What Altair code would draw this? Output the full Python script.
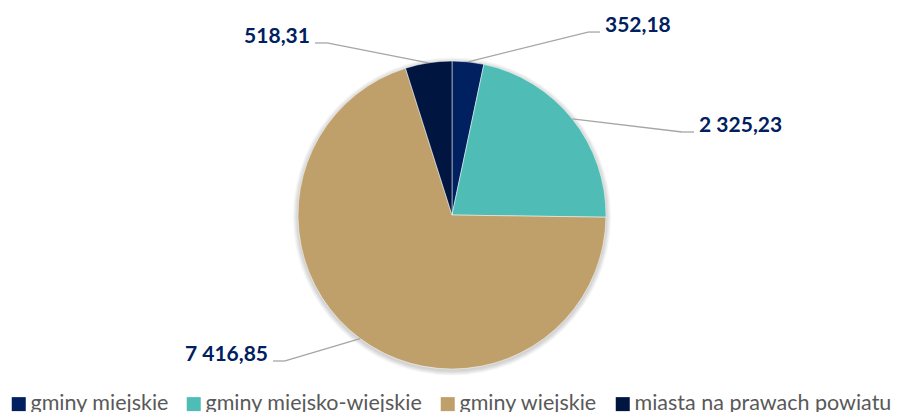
import altair as alt
import pandas as pd

# ---- data ----
categories = ["gminy miejskie", "gminy miejsko-wiejskie", "gminy wiejskie", "miasta na prawach powiatu"]
values = [352.18, 2325.23, 7416.85, 518.31]

# ---- styling / layout ----
colors = ["#002060", "#4FBDB6", "#BF9F6A", "#001640"]
label_color = "#002060"
leader_color = "#A6A6A6"
legend_color = "#595959"

W, H = 887, 404          # whole chart (page margin 8px)
CX, CY, R = 444, 207, 154  # pie centre / radius in chart pixels
# Excel-placed label elbows, in pie-radius units relative to the centre
label_elbow_u = [0.883, 1.494, -1.084, -0.812]
label_elbow_v = [1.188, 0.539, -0.948, 1.117]
HSEG = 12 / R


def fmt(v):
    return f"{v:,.2f}".replace(",", " ").replace(".", ",")


df = pd.DataFrame({
    "idx": list(range(len(categories))),
    "category": categories,
    "value": values,
    "label": [fmt(v) for v in values],
    "eu": label_elbow_u,
    "ev": label_elbow_v,
})

xs = alt.Scale(domain=[-CX / R, (W - CX) / R], nice=False, zero=False)
ys = alt.Scale(domain=[(CY - H) / R, CY / R], nice=False, zero=False)


def X0():
    return alt.XDatum(0, scale=xs, axis=None)


def Y0(v=0):
    return alt.YDatum(v, scale=ys, axis=None)


# soft shadow
shadow_layers = []
for k in [5, 4, 3, 2, 1]:
    shadow_layers.append(
        alt.Chart(alt.Data(values=[{"s": 1}])).mark_arc(
            radius=R + k, theta=6.2832, fill="#000000", opacity=0.035, stroke=None
        ).encode(x=X0(), y=Y0(-1.5 / R))
    )

base = alt.Chart(df)

pie = base.mark_arc(radius=R, stroke="#FFFFFF", strokeWidth=0.5).encode(
    x=X0(),
    y=Y0(),
    theta=alt.Theta("value:Q", stack=True),
    order=alt.Order("idx:Q"),
    color=alt.Color(
        "category:N",
        sort=categories,
        scale=alt.Scale(domain=categories, range=colors),
        legend=alt.Legend(
            title=None, orient="none", legendX=0, legendY=385,
            direction="horizontal", symbolType="square", symbolSize=196,
            symbolStrokeWidth=0, symbolOpacity=1, labelFont="Lato", labelFontSize=21.5,
            labelColor=legend_color, labelOffset=1, columnPadding=14,
            padding=0, labelLimit=500,
        ),
    ),
)

calc = (
    base.transform_joinaggregate(total="sum(value)")
    .transform_window(cum="sum(value)", sort=[alt.SortField("idx")], frame=[None, 0])
    .transform_calculate(mid="(datum.cum - datum.value / 2) / datum.total * 2 * PI")
    .transform_calculate(ax="sin(datum.mid)", ay="cos(datum.mid)")
    .transform_calculate(side="datum.eu > 0 ? 1 : -1")
    .transform_calculate(ex=f"datum.eu + datum.side * {HSEG}")
)

leader1 = calc.mark_rule(color=leader_color, strokeWidth=1.3).encode(
    x=alt.X("ax:Q", scale=xs, axis=None),
    y=alt.Y("ay:Q", scale=ys, axis=None),
    x2="eu:Q",
    y2="ev:Q",
)
leader2 = calc.mark_rule(color=leader_color, strokeWidth=1.3).encode(
    x=alt.X("eu:Q", scale=xs, axis=None),
    y=alt.Y("ev:Q", scale=ys, axis=None),
    x2="ex:Q",
)

text_props = dict(font="Lato", fontSize=21, fontWeight="bold", color=label_color,
                  baseline="alphabetic")
labels_r = calc.transform_filter("datum.side > 0").mark_text(align="left", dx=5, **text_props).encode(
    x=alt.X("ex:Q", scale=xs, axis=None),
    y=alt.Y("ev:Q", scale=ys, axis=None),
    text="label:N",
)
labels_l = calc.transform_filter("datum.side < 0").mark_text(align="right", dx=-5, **text_props).encode(
    x=alt.X("ex:Q", scale=xs, axis=None),
    y=alt.Y("ev:Q", scale=ys, axis=None),
    text="label:N",
)

chart = alt.layer(*shadow_layers, pie, leader1, leader2, labels_r, labels_l).properties(
    width=W, height=H, padding=0, autosize=alt.AutoSizeParams(type="none")
).configure_view(stroke=None)

chart.save("out.html", embed_options={"renderer": "svg", "actions": False})
